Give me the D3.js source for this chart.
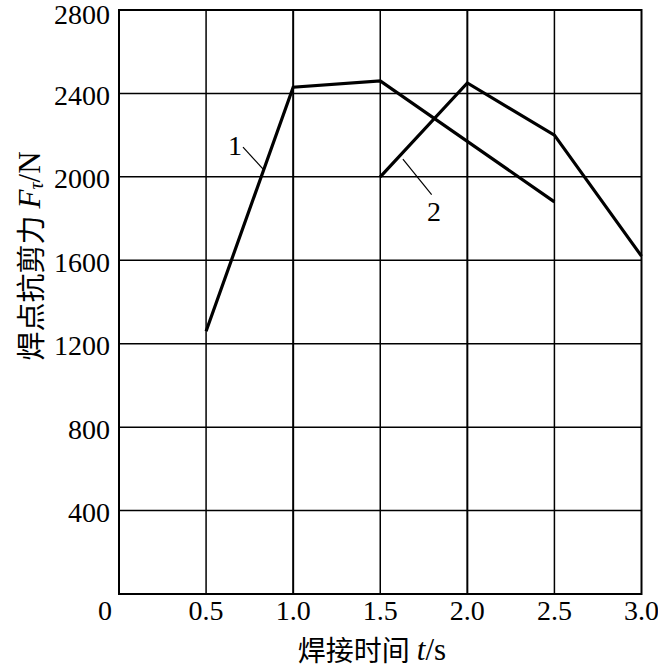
<!DOCTYPE html>
<html><head><meta charset="utf-8">
<script src="https://cdn.jsdelivr.net/npm/d3@7"></script>
<style>body{margin:0;background:#fff;} svg{display:block;}</style>
</head><body>
<script>
const xTicks = [0.5, 1.0, 1.5, 2.0, 2.5, 3.0];
const yTicks = [400, 800, 1200, 1600, 2000, 2400, 2800];
const series1X = [0.5, 1.0, 1.5, 2.5];
const series1Y = [1260, 2430, 2460, 1880];
const series2X = [1.5, 2.0, 2.5, 3.0];
const series2Y = [2000, 2450, 2200, 1620];
const seriesNames = ["1", "2"];
const xLabel = "焊接时间";
const yLabel = "焊点抗剪力";

const W = 658, H = 672;
const svg = d3.select("body").append("svg").attr("width", W).attr("height", H);
const x = d3.scaleLinear().domain([0, 3]).range([119, 641.5]);
const y = d3.scaleLinear().domain([0, 2800]).range([594, 10]);
const serif = "'Liberation Serif','Times New Roman',serif";
const cjk = "'Noto Sans CJK SC','Noto Sans CJK JP',sans-serif";

// grid
svg.append("g").selectAll("line").data(xTicks.slice(0, -1)).join("line")
  .attr("x1", d => x(d)).attr("x2", d => x(d)).attr("y1", y(0)).attr("y2", y(2800))
  .attr("stroke", "#000").attr("stroke-width", d => (d % 1 === 0 ? 2 : 1.5));
svg.append("g").selectAll("line").data(yTicks.slice(0, -1)).join("line")
  .attr("x1", x(0)).attr("x2", x(3)).attr("y1", d => y(d)).attr("y2", d => y(d))
  .attr("stroke", "#000").attr("stroke-width", 1.5);
// frame
svg.append("rect").attr("x", x(0)).attr("y", y(2800)).attr("width", x(3) - x(0)).attr("height", y(0) - y(2800))
  .attr("fill", "none").attr("stroke", "#000").attr("stroke-width", 2);

// tick labels
svg.append("g").selectAll("text").data(yTicks).join("text")
  .attr("x", 110).attr("y", d => Math.max(y(d) + 2, 14)).attr("text-anchor", "end").attr("dominant-baseline", "central")
  .attr("font-family", serif).attr("font-size", 28).text(d => d);
svg.append("g").selectAll("text").data(xTicks).join("text")
  .attr("x", d => x(d)).attr("y", 610).attr("text-anchor", "middle").attr("dominant-baseline", "central")
  .attr("font-family", serif).attr("font-size", 28).text(d => d.toFixed(1));
svg.append("text").attr("x", x(0) - 14).attr("y", 610).attr("text-anchor", "middle").attr("dominant-baseline", "central")
  .attr("font-family", serif).attr("font-size", 28).text("0");

// lines
const line = d3.line().x(d => x(d[0])).y(d => y(d[1]));
[[series1X, series1Y], [series2X, series2Y]].forEach(([xs, ys]) => {
  svg.append("path").datum(xs.map((v, i) => [v, ys[i]])).attr("d", line)
    .attr("fill", "none").attr("stroke", "#000").attr("stroke-width", 3.2).attr("stroke-linejoin", "miter");
});

// series labels with leaders
const labels = [
  {name: seriesNames[0], tx: 0.666, ty: 2150, lx1: 0.712, ly1: 2143, lx2: 0.83, ly2: 2035},
  {name: seriesNames[1], tx: 1.808, ty: 1835, lx1: 1.63, ly1: 2085, lx2: 1.795, ly2: 1915}
];
labels.forEach(l => {
  svg.append("line").attr("x1", x(l.lx1)).attr("y1", y(l.ly1)).attr("x2", x(l.lx2)).attr("y2", y(l.ly2))
    .attr("stroke", "#000").attr("stroke-width", 1.2);
  svg.append("text").attr("x", x(l.tx)).attr("y", y(l.ty)).attr("text-anchor", "middle").attr("dominant-baseline", "central")
    .attr("font-family", serif).attr("font-size", 28).text(l.name);
});

// axis titles
const xt = svg.append("text").attr("x", 372).attr("y", 649).attr("text-anchor", "middle").attr("dominant-baseline", "central")
  .attr("font-size", 28);
xt.append("tspan").attr("font-family", cjk).text(xLabel);
xt.append("tspan").attr("font-family", serif).attr("font-style", "italic").attr("font-size", 31).attr("dx", 7).text("t");
xt.append("tspan").attr("font-family", serif).attr("font-size", 31).text("/s");

const yt = svg.append("text").attr("transform", "translate(29,256) rotate(-90)").attr("text-anchor", "middle")
  .attr("dominant-baseline", "central").attr("font-size", 29);
yt.append("tspan").attr("font-family", cjk).text(yLabel);
yt.append("tspan").attr("font-family", serif).attr("font-style", "italic").attr("font-size", 31).attr("dx", 7).text("F");
yt.append("tspan").attr("font-family", serif).attr("font-style", "italic").attr("font-size", 20).attr("dy", 7).text("τ");
yt.append("tspan").attr("font-family", serif).attr("font-size", 31).attr("dy", -7).text("/N");
</script>
</body></html>
